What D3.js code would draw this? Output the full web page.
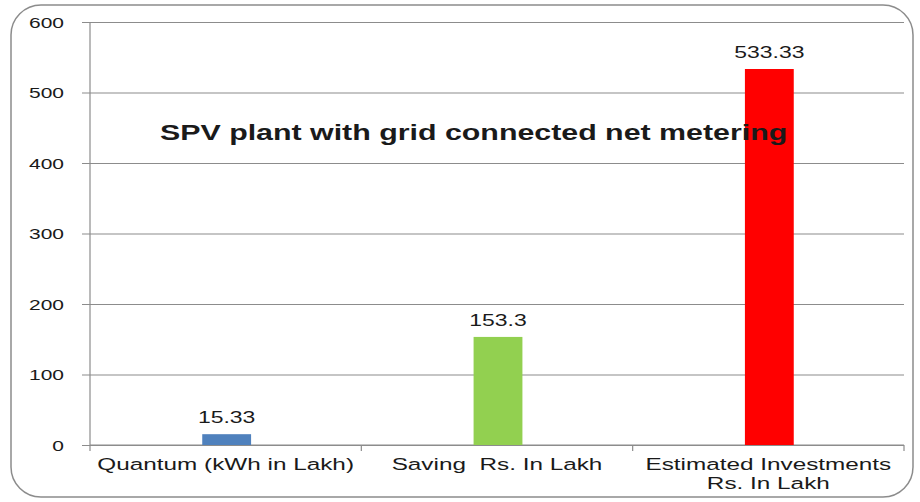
<!DOCTYPE html>
<html>
<head>
<meta charset="utf-8">
<script src="https://cdn.jsdelivr.net/npm/d3@7"></script>
<style>
  html, body { margin: 0; padding: 0; background: #fff; }
  svg text { font-family: "Liberation Sans", Arial, sans-serif; fill: #1a1a1a; }
</style>
</head>
<body>
<div id="chart"></div>
<script>
// chart data
const categories = ["Quantum (kWh in Lakh)", "Saving  Rs. In Lakh", "Estimated Investments|Rs. In Lakh"];
const values = [15.33, 153.3, 533.33];
const valueLabels = ["15.33", "153.3", "533.33"];
const barColors = ["#4f81bd", "#92d050", "#ff0000"];
const yTicks = [0, 100, 200, 300, 400, 500, 600];
const title = "SPV plant with grid connected net metering";

const totalWidth = 920, totalHeight = 502;
const margin = { top: 22, left: 90, right: 16, bottom: 57 };
const w = totalWidth - margin.left - margin.right;
const h = totalHeight - margin.top - margin.bottom;

// the source picture is stretched sideways, so text is too
const stretch = 1.4;

const root = d3.select("#chart")
  .append("svg")
  .attr("width", totalWidth)
  .attr("height", totalHeight);

// outer frame
root.append("rect")
  .attr("x", 11).attr("y", 5)
  .attr("width", 902).attr("height", 492)
  .attr("rx", 30).attr("ry", 30)
  .attr("fill", "#fff")
  .attr("stroke", "#8c8c8c")
  .attr("stroke-width", 1.5);

const svg = root.append("g")
  .attr("transform", `translate(${margin.left},${margin.top})`);

// scales
const xScale = d3.scaleBand()
  .domain(categories)
  .range([0, w])
  .paddingInner(0)
  .paddingOuter(0);

const yScale = d3.scaleLinear()
  .domain([0, 600])
  .range([h, 0]);

// gridlines + y axis
const yAxis = d3.axisLeft(yScale)
  .tickValues(yTicks)
  .tickSize(-w)
  .tickFormat(d3.format("d"));

const gy = svg.append("g").call(yAxis);
gy.select(".domain").remove();
gy.selectAll(".tick line")
  .attr("x1", -8)
  .attr("stroke", "#8c8c8c")
  .attr("stroke-width", 1.2);
gy.selectAll(".tick text")
  .attr("x", null)
  .attr("font-size", 15)
  .attr("dy", "0.36em")
  .attr("fill", "#1a1a1a")
  .attr("transform", `translate(-26,0) scale(${stretch},1)`);

// y axis line
svg.append("line")
  .attr("x1", 0).attr("x2", 0)
  .attr("y1", 0).attr("y2", h)
  .attr("stroke", "#8c8c8c")
  .attr("stroke-width", 1.2);

// x axis (ticks between categories)
const xEdges = categories.map(c => xScale(c)).concat([w]);
svg.append("line")
  .attr("x1", 0).attr("x2", w)
  .attr("y1", h).attr("y2", h)
  .attr("stroke", "#8c8c8c")
  .attr("stroke-width", 1.2);
svg.selectAll(".xtick")
  .data(xEdges)
  .enter()
  .append("line")
  .attr("class", "xtick")
  .attr("x1", d => d).attr("x2", d => d)
  .attr("y1", h).attr("y2", h + 6)
  .attr("stroke", "#8c8c8c")
  .attr("stroke-width", 1.2);

// category labels
const barW = xScale.bandwidth() * 0.18;
const labels = svg.selectAll(".xlabel")
  .data(categories)
  .enter()
  .append("text")
  .attr("class", "xlabel")
  .attr("text-anchor", "middle")
  .attr("font-size", 17)
  .style("white-space", "pre")
  .attr("transform", d => `translate(${xScale(d) + xScale.bandwidth() / 2},${h + 25}) scale(${stretch + 0.03},1)`);
labels.each(function(d) {
  const lines = d.split("|");
  d3.select(this).selectAll("tspan")
    .data(lines)
    .enter()
    .append("tspan")
    .attr("x", 0)
    .attr("dy", (l, i) => i === 0 ? 0 : 19)
    .text(l => l);
});

// bars
svg.selectAll(".bar")
  .data(values)
  .enter()
  .append("rect")
  .attr("class", "bar")
  .attr("x", (d, i) => xScale(categories[i]) + xScale.bandwidth() / 2 - barW / 2 + 1)
  .attr("y", d => yScale(d))
  .attr("width", barW)
  .attr("height", d => h - yScale(d))
  .attr("fill", (d, i) => barColors[i]);

// value labels
svg.selectAll(".vlabel")
  .data(values)
  .enter()
  .append("text")
  .attr("class", "vlabel")
  .attr("text-anchor", "middle")
  .attr("font-size", 17)
  .attr("transform", (d, i) => `translate(${xScale(categories[i]) + xScale.bandwidth() / 2 + 1},${yScale(d) - 11}) scale(${stretch - 0.05},1)`)
  .text((d, i) => valueLabels[i]);

// title inside plot
svg.append("text")
  .attr("transform", `translate(70,${140 - margin.top}) scale(${stretch - 0.02},1)`)
  .attr("font-size", 22)
  .attr("font-weight", "bold")
  .attr("fill", "#111")
  .text(title);
</script>
</body>
</html>
